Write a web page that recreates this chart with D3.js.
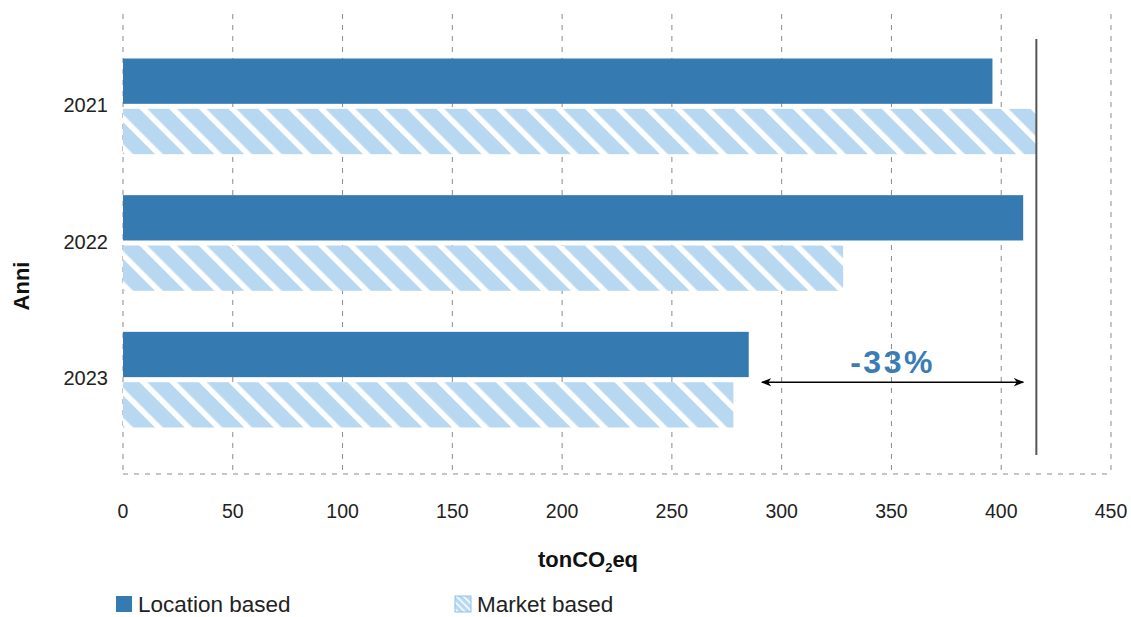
<!DOCTYPE html>
<html>
<head>
<meta charset="utf-8">
<script src="https://cdn.jsdelivr.net/npm/d3@7/dist/d3.min.js"></script>
<style>
  html, body { margin: 0; padding: 0; background: #fff; }
  svg { display: block; font-family: "Liberation Sans", Arial, sans-serif; }
</style>
</head>
<body>
<svg id="chart" width="1131" height="617"></svg>
<script>
// Emissions per year, tonCO2eq
const years = ["2021", "2022", "2023"];
const seriesNames = ["Location based", "Market based"];
const locationBased = [396, 410, 285];
const marketBased = [416, 328, 278];
const xTicks = [0, 50, 100, 150, 200, 250, 300, 350, 400, 450];
// Reduction arrow span (tonCO2eq) under the percentage label
const arrowSpan = [291, 410];

const colors = { location: "#357ab0", market: "#b8d8f2" };

const svg = d3.select("#chart");
const defs = svg.append("defs");

// Diagonal hatch used for the market-based series
const hatch = defs.append("pattern")
  .attr("id", "hatch")
  .attr("patternUnits", "userSpaceOnUse")
  .attr("width", 21).attr("height", 21)
  .attr("patternTransform", "rotate(-45)");
hatch.append("rect").attr("width", 21).attr("height", 21).attr("fill", colors.market);
hatch.append("rect").attr("x", 0).attr("y", 0).attr("width", 5.5).attr("height", 21).attr("fill", "#fff");

const hatchSmall = defs.append("pattern")
  .attr("id", "hatchSmall")
  .attr("patternUnits", "userSpaceOnUse")
  .attr("width", 5).attr("height", 5)
  .attr("patternTransform", "rotate(-45)");
hatchSmall.append("rect").attr("width", 5).attr("height", 5).attr("fill", colors.market);
hatchSmall.append("rect").attr("width", 1.5).attr("height", 5).attr("fill", "#fff");

defs.append("marker")
  .attr("id", "arrow").attr("viewBox", "0 0 10 10")
  .attr("refX", 9).attr("refY", 5)
  .attr("markerWidth", 7).attr("markerHeight", 7)
  .attr("orient", "auto-start-reverse")
  .append("path").attr("d", "M0,1 L10,5 L0,9 L3,5 Z").attr("fill", "#000");

const x = d3.scaleLinear().domain([0, 450]).range([123, 1111]);
const y = d3.scaleBand().domain(years).range([38, 448]).paddingInner(0.3).paddingOuter(0.15);
const ySub = d3.scaleBand().domain(seriesNames).range([0, y.bandwidth()]).paddingInner(0.1);

const gridTop = 14, gridBottom = 474;

// Dashed vertical gridlines
svg.append("g").selectAll("line").data(xTicks).join("line")
  .attr("x1", d => x(d)).attr("x2", d => x(d))
  .attr("y1", gridTop).attr("y2", gridBottom)
  .attr("stroke", "#8a8a8a").attr("stroke-width", 1)
  .attr("stroke-dasharray", "5,6");

// Dashed baseline
svg.append("line")
  .attr("x1", x(0)).attr("x2", x(450))
  .attr("y1", gridBottom).attr("y2", gridBottom)
  .attr("stroke", "#8a8a8a").attr("stroke-width", 1)
  .attr("stroke-dasharray", "5,6");

// Bars
const rows = years.map((yr, i) => ({ year: yr, values: [locationBased[i], marketBased[i]] }));
const groups = svg.append("g").selectAll("g").data(rows).join("g")
  .attr("transform", d => `translate(0,${y(d.year)})`);
groups.selectAll("rect").data(d => d.values.map((v, j) => ({ key: seriesNames[j], v }))).join("rect")
  .attr("x", x(0))
  .attr("y", d => ySub(d.key))
  .attr("width", d => x(d.v) - x(0))
  .attr("height", ySub.bandwidth())
  .attr("fill", d => d.key === seriesNames[0] ? colors.location : "url(#hatch)");

// Reference line at the 2021 market-based value
svg.append("line")
  .attr("x1", x(marketBased[0])).attr("x2", x(marketBased[0]))
  .attr("y1", 39).attr("y2", 455)
  .attr("stroke", "#555").attr("stroke-width", 2);

// Reduction annotation
const arrowY = y("2023") + ySub("Market based");
svg.append("line")
  .attr("x1", x(arrowSpan[0])).attr("x2", x(arrowSpan[1]))
  .attr("y1", arrowY).attr("y2", arrowY)
  .attr("stroke", "#000").attr("stroke-width", 1.5)
  .attr("marker-start", "url(#arrow)").attr("marker-end", "url(#arrow)");

const change = Math.round((marketBased[2] / marketBased[0] - 1) * 100);
svg.append("text")
  .attr("x", (x(arrowSpan[0]) + x(arrowSpan[1])) / 2)
  .attr("y", arrowY - 9)
  .attr("text-anchor", "middle")
  .attr("fill", "#3a7db5")
  .attr("font-size", 32).attr("font-weight", "bold")
  .attr("letter-spacing", "2.5")
  .text(`${change}%`);

// X tick labels
svg.append("g").selectAll("text").data(xTicks).join("text")
  .attr("x", d => x(d)).attr("y", 518)
  .attr("text-anchor", "middle")
  .attr("font-size", 19.5).attr("fill", "#222")
  .text(d => d);

// Y tick labels
svg.append("g").selectAll("text").data(years).join("text")
  .attr("x", 108)
  .attr("y", d => y(d) + ySub("Market based") + 3)
  .attr("text-anchor", "end")
  .attr("font-size", 20).attr("fill", "#222")
  .text(d => d);

// Axis titles
const xt = svg.append("text")
  .attr("x", 588).attr("y", 567)
  .attr("text-anchor", "middle")
  .attr("font-size", 22).attr("font-weight", "bold").attr("fill", "#111");
xt.append("tspan").text("tonCO");
xt.append("tspan").attr("font-size", 13).attr("dy", 5).text("2");
xt.append("tspan").attr("dy", -5).text("eq");

svg.append("text")
  .attr("transform", "translate(29,286) rotate(-90)")
  .attr("text-anchor", "middle")
  .attr("font-size", 22).attr("font-weight", "bold").attr("fill", "#111")
  .text("Anni");

// Legend
const legendItems = [
  { name: seriesNames[0], fill: colors.location, x: 116 },
  { name: seriesNames[1], fill: "url(#hatchSmall)", x: 455 }
];
const lg = svg.append("g").selectAll("g").data(legendItems).join("g")
  .attr("transform", d => `translate(${d.x},596)`);
lg.append("rect").attr("width", 16).attr("height", 16)
  .attr("fill", d => d.fill)
  .attr("stroke", d => d.name === seriesNames[1] ? "#8fc0e8" : "none")
  .attr("stroke-width", 1);
lg.append("text").attr("x", 22).attr("y", 15.5)
  .attr("font-size", 22.5).attr("fill", "#222")
  .text(d => d.name);
</script>
</body>
</html>
